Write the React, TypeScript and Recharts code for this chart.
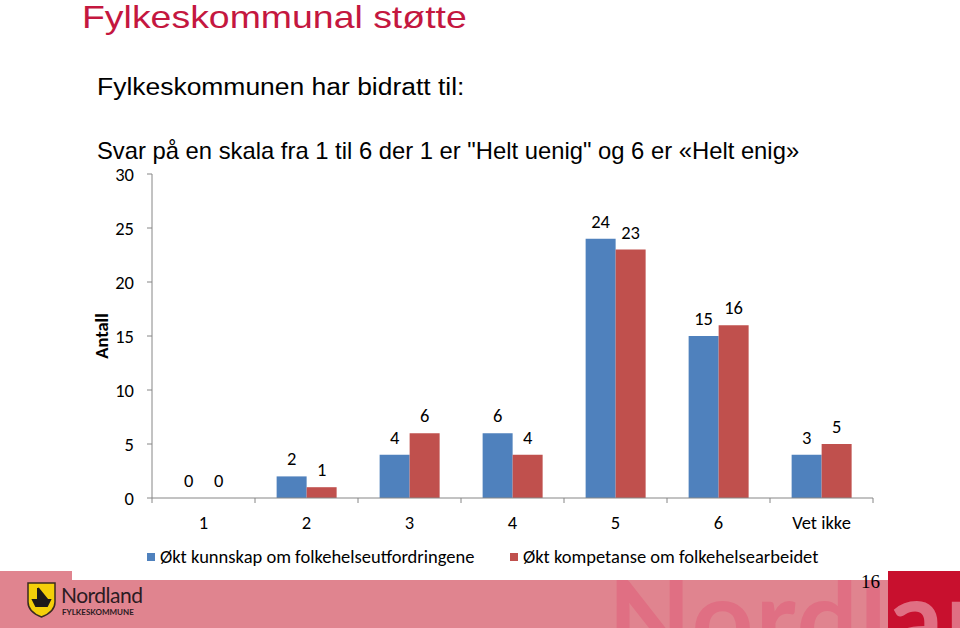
import { Bar, BarChart, LabelList, XAxis, YAxis } from "recharts";

const categories = ["1", "2", "3", "4", "5", "6", "Vet ikke"];
const kunnskap = [0, 2, 4, 6, 24, 15, 4];
const kunnskapLabels = ["0", "2", "4", "6", "24", "15", "3"];
const kompetanse = [0, 1, 6, 4, 23, 16, 5];
const yTicks = [0, 5, 10, 15, 20, 25, 30];
const seriesNames = ["Økt kunnskap om folkehelseutfordringene", "Økt kompetanse om folkehelsearbeidet"];

const BLUE = "#4f81bd";
const RED = "#c0504d";
const AXIS = "#868686";
const FONT = "Carlito, Lato, sans-serif";
const ARIAL = "'Liberation Sans', Arial, sans-serif";

const data = categories.map((category, i) => ({
  category,
  kunnskap: kunnskap[i],
  kunnskapLabel: kunnskapLabels[i],
  kompetanse: kompetanse[i],
}));

function CategoryTick(props: any) {
  const { x, y, payload, index, visibleTicksCount } = props;
  const half = payload.offset ?? 0;
  return (
    <g>
      <line x1={x - half} y1={y} x2={x - half} y2={y + 5} stroke={AXIS} />
      {index === visibleTicksCount - 1 && <line x1={x + half} y1={y} x2={x + half} y2={y + 5} stroke={AXIS} />}
      <text x={x} y={y + 31} textAnchor="middle" fontSize={18.5} fill="#000" fontFamily={FONT}>
        {payload.value}
      </text>
    </g>
  );
}

function AxisTitle(props: any) {
  const vb = props.viewBox;
  const cx = vb.x + 21;
  const cy = vb.y + vb.height / 2;
  return (
    <text x={cx} y={cy} transform={`rotate(-90 ${cx} ${cy})`} textAnchor="middle" dominantBaseline="central"
      fontSize={18.5} fontWeight="bold" fontFamily={FONT} fill="#000">
      Antall
    </text>
  );
}

function Backdrop() {
  return (
    <svg width={960} height={628} style={{ position: "absolute", left: 0, top: 0 }}>
      <defs>
        <clipPath id="band">
          <rect x={0} y={580} width={960} height={48} />
        </clipPath>
      </defs>
      <text transform="translate(82 28) scale(1.17 1)" fontSize={32} fontFamily={ARIAL} fill="#c4173f">Fylkeskommunal støtte</text>
      <text transform="translate(97 95) scale(1.08 1)" fontSize={24.5} fontFamily={ARIAL} fill="#000">Fylkeskommunen har bidratt til:</text>
      <text x={97} y={159} fontSize={23.8} fontFamily={ARIAL} fill="#000">
        Svar på en skala fra 1 til 6 der 1 er "Helt uenig" og 6 er «Helt enig»
      </text>
      <rect x={0} y={580} width={960} height={48} fill="#e0848f" />
      <rect x={0} y={571} width={72} height={10} fill="#e0848f" />
      <rect x={888} y={571} width={72} height={57} fill="#c8102e" />
      <text x={608} y={657} fontSize={108} fontWeight="bold" fontFamily="Lato, sans-serif" fill="#e06f83" clipPath="url(#band)" letterSpacing={2}>
        Nordland
      </text>
      {/* logo */}
      <path d="M28 583 L55 583 L55 602 Q55 612 41.5 617 Q28 612 28 602 Z" fill="#f4cf0a" stroke="#3a2a20" strokeWidth={1.5} />
      <path d="M33 600 L50 600 L47 606 L36 606 Z M38 588 L38 600 M38 588 L46 598 L38 598" fill="#1d1a1a" stroke="#1d1a1a" strokeWidth={2} />
      <text x={61} y={603} fontSize={21} letterSpacing={-0.5} fontFamily="Lato, sans-serif" fill="#2b1b22">Nordland</text>
      <text x={62} y={615} fontSize={8} fontWeight="bold" fontFamily="Lato, sans-serif" fill="#2b1b22">FYLKESKOMMUNE</text>
      <text x={861} y={588} fontSize={19} fontFamily="'Liberation Serif', serif" fill="#000">16</text>
    </svg>
  );
}

export default function App() {
  return (
    <div style={{ position: "absolute", left: 0, top: 0, width: 960, height: 628, background: "#fff", overflow: "hidden" }}>
      <Backdrop />
      <div style={{ position: "absolute", left: 0, top: 150 }}>
        <BarChart width={960} height={400} data={data} margin={{ top: 24, right: 87, bottom: 22, left: 80 }}
          barCategoryGap="21%" barGap={0}>
          <XAxis dataKey="category" height={30} tickLine={false} tickSize={0} tickMargin={0}
            axisLine={{ stroke: AXIS }} tick={<CategoryTick />} interval={0} />
          <YAxis width={72} domain={[0, 30]} ticks={yTicks} interval={0} tickSize={5} tickMargin={13}
            axisLine={{ stroke: AXIS }} tickLine={{ stroke: AXIS }}
            tick={{ fill: "#000", fontSize: 18.5, fontFamily: FONT }} label={<AxisTitle />} />
          <Bar dataKey="kunnskap" name={seriesNames[0]} fill={BLUE} minPointSize={0.01} isAnimationActive={false}>
            <LabelList dataKey="kunnskapLabel" position="top" offset={11} fill="#000" fontSize={18.5} fontFamily={FONT} />
          </Bar>
          <Bar dataKey="kompetanse" name={seriesNames[1]} fill={RED} minPointSize={0.01} isAnimationActive={false}>
            <LabelList dataKey="kompetanse" position="top" offset={11} fill="#000" fontSize={18.5} fontFamily={FONT} />
          </Bar>
        </BarChart>
      </div>
      <div style={{ position: "absolute", left: 147, top: 545, display: "flex", alignItems: "center", fontFamily: FONT, fontSize: 18.5, color: "#000", whiteSpace: "nowrap" }}>
        <span style={{ width: 8, height: 8, background: BLUE, marginRight: 5 }} />
        <span>{seriesNames[0]}</span>
      </div>
      <div style={{ position: "absolute", left: 510, top: 545, display: "flex", alignItems: "center", fontFamily: FONT, fontSize: 18.5, color: "#000", whiteSpace: "nowrap" }}>
        <span style={{ width: 8, height: 8, background: RED, marginRight: 5 }} />
        <span>{seriesNames[1]}</span>
      </div>
    </div>
  );
}
